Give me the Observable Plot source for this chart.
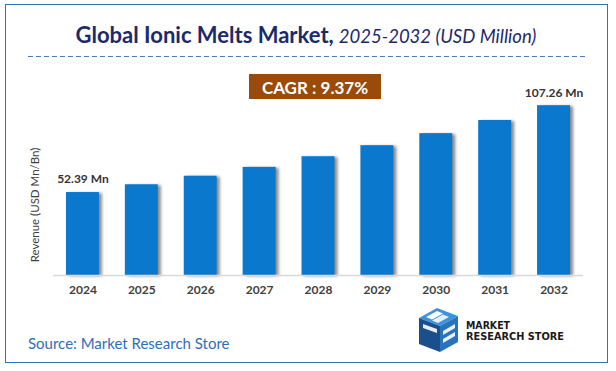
<!DOCTYPE html>
<html><head><meta charset="utf-8">
<script src="https://cdn.jsdelivr.net/npm/d3@7"></script>
<script src="https://cdn.jsdelivr.net/npm/@observablehq/plot@0.6"></script>
<style>
body{margin:0;background:#fff;}
#wrap{position:relative;width:616px;height:371px;overflow:hidden;font-family:Lato,"Open Sans",sans-serif;background:#fff;}
#border{position:absolute;left:5px;top:4px;width:603px;height:359px;border:1.5px solid #2E75B6;box-sizing:border-box;}
#chart{position:absolute;left:0;top:0;}
#overlay{position:absolute;left:0;top:0;}
</style>
</head><body>
<div id="wrap">
  <div id="border"></div>
  <div id="chart"></div>
  <svg id="overlay" width="616" height="371" font-family="Lato, 'Open Sans', sans-serif">
    <text x="306" y="43" text-anchor="middle" fill="#1C2A6B"><tspan font-weight="bold" font-size="22">Global Ionic Melts Market,</tspan><tspan font-style="italic" font-size="18.5" dx="5">2025-2032 (USD Million)</tspan></text>
    <line x1="28" x2="586" y1="56.5" y2="56.5" stroke="#4A78C8" stroke-width="1" stroke-dasharray="5,3"/>
    <rect x="249" y="74" width="132" height="25" fill="#9A4A09"/>
    <text x="315" y="94" text-anchor="middle" fill="#fff" font-weight="bold" font-size="17">CAGR : 9.37%</text>
    <text transform="translate(38.5,205) rotate(-90)" text-anchor="middle" font-size="11.5" fill="#404040">Revenue (USD Mn/Bn)</text>
    <text x="28" y="349" font-size="15" fill="#2F6EB5">Source: Market Research Store</text>
    <g>
      <polygon points="419,318 437,308 458,316 440,326" fill="#3C93DD"/>
      <polygon points="419,318 440,326 440,352 419,344" fill="#1A4F8C"/>
      <polygon points="440,326 458,316 458,342 440,352" fill="#2873BD"/>
      <polygon points="426,317 437,311 443,313.5 432,319.5" fill="#fff"/>
      <polygon points="432,320.5 443,314.5 449,317 438,323" fill="#fff" opacity="0.85"/>
      <polygon points="423,324 437,329 437,333 423,328" fill="#fff" opacity="0.9"/>
      <polygon points="443,331 455,324 455,328 443,335" fill="#fff" opacity="0.9"/>
      <polygon points="443,339 455,332 455,336 443,343" fill="#fff" opacity="0.9"/>
    </g>
    <text x="466" y="328.5" font-family="'Liberation Sans Narrow','DejaVu Sans Condensed',sans-serif" font-weight="bold" font-size="10.5" fill="#1a1a1a" textLength="44" lengthAdjust="spacingAndGlyphs">MARKET</text>
    <text x="466" y="339.5" font-family="'Liberation Sans Narrow','DejaVu Sans Condensed',sans-serif" font-weight="bold" font-size="10.5" fill="#1a1a1a" textLength="98" lengthAdjust="spacingAndGlyphs">RESEARCH STORE</text>
  </svg>
</div>
<script>
const years = ["2024","2025","2026","2027","2028","2029","2030","2031","2032"];
const revenue = [52.39, 57.3, 62.7, 68.3, 75.0, 82.0, 89.6, 97.9, 107.26];
const valueLabels = ["52.39 Mn","","","","","","","","107.26 Mn"];

const data = years.map((y,i)=>({year:y, value:revenue[i], label:valueLabels[i]}));

const chart = Plot.plot({
  width:616, height:300,
  marginLeft:53, marginRight:33, marginTop:85, marginBottom:25,
  x:{domain:years, paddingInner:0.44, paddingOuter:0.22, round:false, label:null},
  y:{domain:[0,120], axis:null},
  style:{fontFamily:"Lato, 'Open Sans', sans-serif", fontSize:"12px", color:"#404040", background:"transparent"},
  marks:[
    Plot.barY(data,{x:"year", y:"value", fill:"#0A78CD"}),
    Plot.ruleY([0],{stroke:"#D9D9D9", strokeWidth:1.5}),
    Plot.text(data.filter(d=>d.label),{x:"year", y:"value", text:"label", dy:-13, fontWeight:"bold", fontSize:12, fill:"#333333"}),
    Plot.axisX({tickSize:0, tickPadding:10, fontWeight:"bold", fontSize:12, fill:"#404040", label:null})
  ]
});
document.getElementById("chart").appendChild(chart);
const bars = chart.querySelector('g[aria-label="bar"]');
if (bars) bars.style.filter = "drop-shadow(3px 1px 1.5px rgba(0,0,0,0.45))";
chart.querySelectorAll('g[aria-label="x-axis tick label"] text').forEach(t=>{t.style.fontWeight="bold";});
</script>
</body></html>
